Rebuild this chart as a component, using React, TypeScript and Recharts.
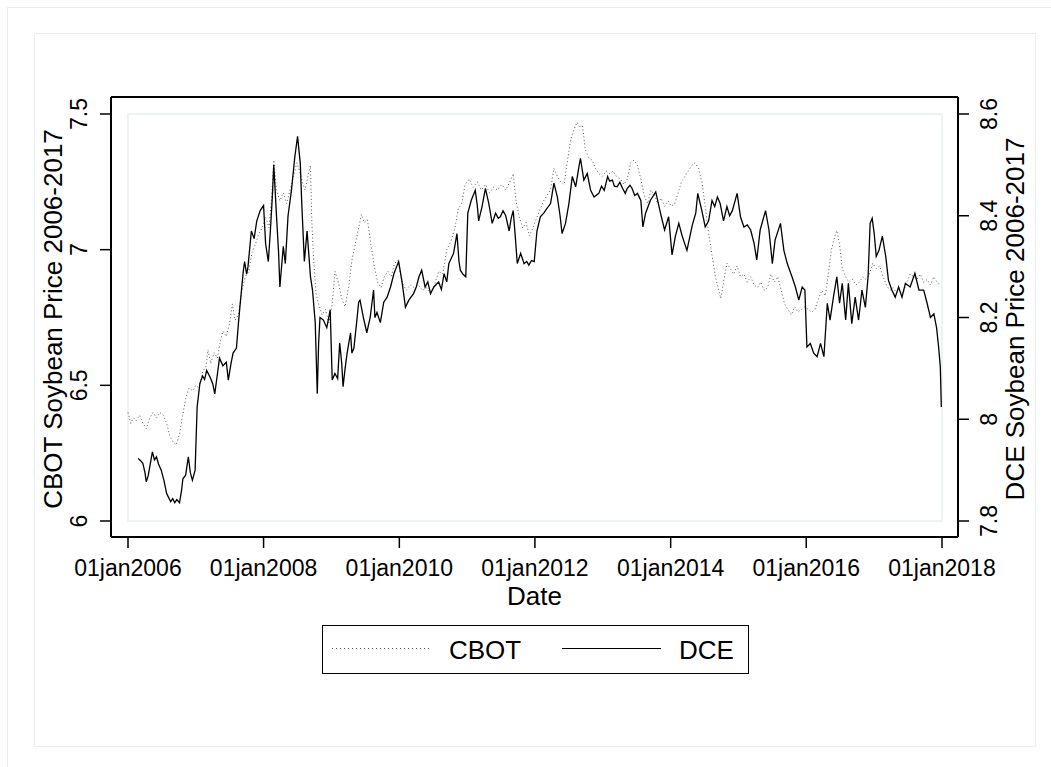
import React from "react";
import { LineChart, Line, XAxis, YAxis, ReferenceArea, Legend, CartesianGrid } from "recharts";

const FONT = '"Liberation Sans", Arial, Helvetica, sans-serif';

// tick values
const yearTicks = [2006, 2008, 2010, 2012, 2014, 2016, 2018];
const cbotTicks = [6, 6.5, 7, 7.5];
const dceTicks = [7.8, 8, 8.2, 8.4, 8.6];

// [decimal year, log price]
const cbotPoints: [number, number][] = [
  [2006.0, 6.4], [2006.04, 6.36], [2006.08, 6.38], [2006.12, 6.37], [2006.17, 6.39], [2006.22, 6.36],
  [2006.27, 6.34], [2006.32, 6.38], [2006.37, 6.4], [2006.42, 6.38], [2006.47, 6.4], [2006.52, 6.39],
  [2006.57, 6.36], [2006.62, 6.31], [2006.67, 6.29], [2006.71, 6.28], [2006.76, 6.32], [2006.8, 6.38],
  [2006.85, 6.45], [2006.9, 6.49], [2006.95, 6.48], [2007.0, 6.5], [2007.05, 6.49], [2007.1, 6.55],
  [2007.15, 6.57], [2007.18, 6.63], [2007.22, 6.58], [2007.27, 6.62], [2007.32, 6.6], [2007.36, 6.66],
  [2007.4, 6.7], [2007.45, 6.68], [2007.5, 6.73], [2007.54, 6.8], [2007.58, 6.74], [2007.63, 6.76],
  [2007.68, 6.85], [2007.73, 6.9], [2007.78, 6.92], [2007.83, 6.99], [2007.88, 7.02], [2007.93, 7.06],
  [2007.98, 7.08], [2008.03, 7.12], [2008.08, 7.08], [2008.12, 7.2], [2008.15, 7.33], [2008.19, 7.22],
  [2008.24, 7.18], [2008.29, 7.21], [2008.34, 7.17], [2008.39, 7.22], [2008.44, 7.27], [2008.49, 7.32],
  [2008.53, 7.29], [2008.57, 7.25], [2008.61, 7.22], [2008.66, 7.28], [2008.69, 7.31], [2008.71, 7.1],
  [2008.74, 6.95], [2008.77, 6.84], [2008.81, 6.8], [2008.86, 6.76], [2008.91, 6.78], [2008.96, 6.73],
  [2009.01, 6.8], [2009.05, 6.92], [2009.1, 6.88], [2009.15, 6.82], [2009.2, 6.79], [2009.25, 6.86],
  [2009.3, 6.96], [2009.35, 7.02], [2009.4, 7.08], [2009.44, 7.13], [2009.48, 7.1], [2009.53, 7.11],
  [2009.58, 7.02], [2009.63, 6.94], [2009.68, 6.88], [2009.73, 6.86], [2009.78, 6.9], [2009.83, 6.92],
  [2009.88, 6.9], [2009.93, 6.95], [2009.98, 6.96], [2010.04, 6.88], [2010.1, 6.85], [2010.16, 6.87],
  [2010.22, 6.86], [2010.28, 6.87], [2010.34, 6.85], [2010.4, 6.86], [2010.46, 6.84], [2010.52, 6.87],
  [2010.58, 6.92], [2010.64, 6.91], [2010.7, 7.0], [2010.76, 7.03], [2010.82, 7.08], [2010.87, 7.15],
  [2010.92, 7.17], [2010.97, 7.24], [2011.03, 7.26], [2011.09, 7.23], [2011.15, 7.25], [2011.21, 7.22],
  [2011.27, 7.24], [2011.33, 7.21], [2011.39, 7.23], [2011.45, 7.22], [2011.51, 7.24], [2011.57, 7.22],
  [2011.63, 7.25], [2011.68, 7.28], [2011.72, 7.18], [2011.77, 7.12], [2011.82, 7.08], [2011.87, 7.1],
  [2011.92, 7.05], [2011.97, 7.08], [2012.03, 7.12], [2012.08, 7.15], [2012.13, 7.18], [2012.18, 7.2],
  [2012.23, 7.22], [2012.28, 7.3], [2012.33, 7.27], [2012.38, 7.25], [2012.43, 7.24], [2012.48, 7.33],
  [2012.53, 7.41], [2012.57, 7.44], [2012.62, 7.47], [2012.66, 7.45], [2012.7, 7.46], [2012.74, 7.37],
  [2012.79, 7.34], [2012.84, 7.33], [2012.89, 7.3], [2012.94, 7.28], [2012.99, 7.27], [2013.05, 7.29],
  [2013.1, 7.28], [2013.15, 7.29], [2013.2, 7.27], [2013.26, 7.26], [2013.31, 7.24], [2013.36, 7.26],
  [2013.41, 7.32], [2013.46, 7.33], [2013.51, 7.31], [2013.56, 7.26], [2013.61, 7.2], [2013.66, 7.17],
  [2013.71, 7.22], [2013.76, 7.2], [2013.81, 7.17], [2013.86, 7.19], [2013.91, 7.16], [2013.96, 7.18],
  [2014.01, 7.16], [2014.06, 7.17], [2014.11, 7.21], [2014.16, 7.25], [2014.21, 7.27], [2014.26, 7.29],
  [2014.31, 7.31], [2014.36, 7.32], [2014.41, 7.3], [2014.46, 7.25], [2014.51, 7.16], [2014.56, 7.06],
  [2014.61, 6.98], [2014.66, 6.9], [2014.7, 6.86], [2014.74, 6.82], [2014.78, 6.88], [2014.83, 6.95],
  [2014.88, 6.93], [2014.93, 6.91], [2014.98, 6.94], [2015.03, 6.9], [2015.08, 6.91], [2015.13, 6.88],
  [2015.18, 6.9], [2015.23, 6.87], [2015.28, 6.86], [2015.33, 6.88], [2015.38, 6.85], [2015.43, 6.86],
  [2015.48, 6.91], [2015.53, 6.88], [2015.58, 6.9], [2015.63, 6.85], [2015.68, 6.8], [2015.73, 6.78],
  [2015.78, 6.76], [2015.83, 6.79], [2015.88, 6.77], [2015.93, 6.78], [2015.98, 6.79], [2016.03, 6.78],
  [2016.08, 6.77], [2016.13, 6.78], [2016.18, 6.82], [2016.23, 6.85], [2016.28, 6.83], [2016.33, 6.92],
  [2016.37, 7.0], [2016.41, 7.04], [2016.45, 7.07], [2016.49, 7.02], [2016.53, 6.93], [2016.58, 6.9],
  [2016.63, 6.88], [2016.68, 6.89], [2016.73, 6.87], [2016.78, 6.88], [2016.83, 6.9], [2016.88, 6.89],
  [2016.93, 6.91], [2016.98, 6.95], [2017.03, 6.93], [2017.08, 6.94], [2017.13, 6.9], [2017.18, 6.87],
  [2017.23, 6.85], [2017.28, 6.86], [2017.33, 6.84], [2017.38, 6.85], [2017.43, 6.84], [2017.48, 6.88],
  [2017.53, 6.91], [2017.58, 6.9], [2017.63, 6.89], [2017.68, 6.91], [2017.73, 6.88], [2017.78, 6.89],
  [2017.83, 6.87], [2017.88, 6.9], [2017.93, 6.88], [2017.98, 6.87],
];

const dcePoints: [number, number][] = [
  [2006.15, 7.923], [2006.19, 7.918], [2006.22, 7.913], [2006.25, 7.895], [2006.27, 7.877], [2006.3, 7.89],
  [2006.32, 7.906], [2006.36, 7.936], [2006.39, 7.92], [2006.42, 7.926], [2006.45, 7.912], [2006.49, 7.9],
  [2006.53, 7.88], [2006.57, 7.854], [2006.6, 7.846], [2006.63, 7.838], [2006.66, 7.844], [2006.69, 7.836],
  [2006.72, 7.842], [2006.76, 7.836], [2006.79, 7.86], [2006.81, 7.883], [2006.85, 7.89], [2006.89, 7.926],
  [2006.92, 7.895], [2006.95, 7.88], [2006.99, 7.9], [2007.02, 8.024], [2007.06, 8.07], [2007.1, 8.085],
  [2007.13, 8.078], [2007.16, 8.096], [2007.21, 8.083], [2007.25, 8.07], [2007.28, 8.05], [2007.32, 8.09],
  [2007.35, 8.12], [2007.4, 8.105], [2007.45, 8.112], [2007.48, 8.077], [2007.52, 8.11], [2007.55, 8.13],
  [2007.6, 8.14], [2007.63, 8.19], [2007.65, 8.22], [2007.7, 8.29], [2007.72, 8.31], [2007.75, 8.285],
  [2007.77, 8.3], [2007.82, 8.37], [2007.86, 8.355], [2007.9, 8.39], [2007.95, 8.41], [2008.0, 8.42],
  [2008.03, 8.345], [2008.07, 8.31], [2008.1, 8.37], [2008.13, 8.44], [2008.15, 8.5], [2008.19, 8.4],
  [2008.22, 8.33], [2008.24, 8.26], [2008.29, 8.34], [2008.32, 8.306], [2008.36, 8.4], [2008.41, 8.45],
  [2008.46, 8.516], [2008.5, 8.556], [2008.54, 8.503], [2008.56, 8.43], [2008.6, 8.31], [2008.64, 8.37],
  [2008.69, 8.28], [2008.72, 8.254], [2008.76, 8.19], [2008.79, 8.05], [2008.81, 8.15], [2008.83, 8.2],
  [2008.88, 8.195], [2008.93, 8.18], [2008.98, 8.215], [2009.01, 8.077], [2009.05, 8.09], [2009.09, 8.08],
  [2009.12, 8.15], [2009.15, 8.11], [2009.17, 8.064], [2009.2, 8.1], [2009.23, 8.13], [2009.28, 8.17],
  [2009.3, 8.13], [2009.33, 8.14], [2009.37, 8.19], [2009.4, 8.23], [2009.42, 8.234], [2009.47, 8.2],
  [2009.52, 8.17], [2009.57, 8.2], [2009.62, 8.254], [2009.64, 8.2], [2009.67, 8.21], [2009.72, 8.19],
  [2009.77, 8.23], [2009.82, 8.24], [2009.87, 8.26], [2009.92, 8.286], [2009.96, 8.3], [2009.99, 8.31],
  [2010.04, 8.27], [2010.09, 8.22], [2010.14, 8.234], [2010.21, 8.247], [2010.25, 8.26], [2010.29, 8.28],
  [2010.33, 8.293], [2010.38, 8.26], [2010.42, 8.27], [2010.46, 8.247], [2010.51, 8.26], [2010.58, 8.27],
  [2010.62, 8.255], [2010.66, 8.286], [2010.7, 8.27], [2010.73, 8.306], [2010.8, 8.326], [2010.85, 8.365],
  [2010.88, 8.31], [2010.9, 8.293], [2010.94, 8.285], [2010.98, 8.28], [2011.01, 8.405], [2011.06, 8.43],
  [2011.12, 8.45], [2011.15, 8.42], [2011.17, 8.39], [2011.22, 8.418], [2011.27, 8.454], [2011.32, 8.424],
  [2011.37, 8.385], [2011.42, 8.405], [2011.46, 8.395], [2011.49, 8.398], [2011.53, 8.41], [2011.57, 8.4],
  [2011.62, 8.37], [2011.65, 8.395], [2011.68, 8.41], [2011.71, 8.36], [2011.74, 8.306], [2011.79, 8.326],
  [2011.84, 8.306], [2011.88, 8.31], [2011.91, 8.303], [2011.95, 8.312], [2011.99, 8.31], [2012.03, 8.37],
  [2012.08, 8.398], [2012.13, 8.405], [2012.18, 8.415], [2012.23, 8.424], [2012.28, 8.464], [2012.33, 8.437],
  [2012.37, 8.4], [2012.4, 8.365], [2012.45, 8.385], [2012.5, 8.424], [2012.55, 8.477], [2012.6, 8.457],
  [2012.64, 8.49], [2012.67, 8.513], [2012.72, 8.47], [2012.77, 8.483], [2012.82, 8.45], [2012.87, 8.437],
  [2012.94, 8.444], [2012.98, 8.458], [2013.02, 8.45], [2013.07, 8.477], [2013.1, 8.468], [2013.14, 8.47],
  [2013.17, 8.458], [2013.21, 8.457], [2013.25, 8.466], [2013.29, 8.454], [2013.33, 8.444], [2013.36, 8.454],
  [2013.4, 8.46], [2013.43, 8.454], [2013.47, 8.44], [2013.51, 8.444], [2013.56, 8.43], [2013.59, 8.378],
  [2013.63, 8.405], [2013.7, 8.43], [2013.78, 8.447], [2013.85, 8.405], [2013.91, 8.372], [2013.97, 8.398],
  [2014.02, 8.323], [2014.07, 8.36], [2014.12, 8.385], [2014.17, 8.36], [2014.24, 8.332], [2014.32, 8.382],
  [2014.37, 8.405], [2014.4, 8.444], [2014.46, 8.41], [2014.51, 8.378], [2014.56, 8.39], [2014.61, 8.43],
  [2014.65, 8.418], [2014.69, 8.437], [2014.73, 8.424], [2014.78, 8.39], [2014.83, 8.418], [2014.87, 8.4],
  [2014.91, 8.41], [2014.98, 8.444], [2015.03, 8.398], [2015.08, 8.378], [2015.13, 8.382], [2015.18, 8.372],
  [2015.23, 8.346], [2015.27, 8.313], [2015.32, 8.372], [2015.4, 8.41], [2015.45, 8.372], [2015.5, 8.306],
  [2015.54, 8.352], [2015.62, 8.385], [2015.67, 8.332], [2015.72, 8.306], [2015.79, 8.28], [2015.84, 8.26],
  [2015.89, 8.234], [2015.94, 8.26], [2015.98, 8.254], [2016.01, 8.142], [2016.06, 8.149], [2016.11, 8.13],
  [2016.16, 8.123], [2016.21, 8.149], [2016.26, 8.123], [2016.31, 8.228], [2016.35, 8.195], [2016.4, 8.24],
  [2016.45, 8.28], [2016.49, 8.228], [2016.53, 8.267], [2016.58, 8.195], [2016.62, 8.267], [2016.67, 8.188],
  [2016.72, 8.24], [2016.77, 8.195], [2016.82, 8.254], [2016.87, 8.22], [2016.91, 8.28], [2016.94, 8.385],
  [2016.97, 8.395], [2017.0, 8.365], [2017.03, 8.32], [2017.07, 8.332], [2017.12, 8.36], [2017.17, 8.32],
  [2017.21, 8.273], [2017.26, 8.254], [2017.31, 8.24], [2017.36, 8.26], [2017.41, 8.24], [2017.46, 8.267],
  [2017.53, 8.26], [2017.6, 8.287], [2017.66, 8.254], [2017.73, 8.254], [2017.78, 8.228], [2017.83, 8.2],
  [2017.88, 8.207], [2017.92, 8.18], [2017.95, 8.142], [2017.975, 8.103], [2017.99, 8.024],
];

// decimal year -> epoch ms
const toTime = (yr: number) => {
  const y = Math.floor(yr);
  const start = Date.UTC(y, 0, 1);
  const end = Date.UTC(y + 1, 0, 1);
  return start + (yr - y) * (end - start);
};

const cbotData = cbotPoints.map(([d, v]) => ({ t: toTime(d), v }));
const dceData = dcePoints.map(([d, v]) => ({ t: toTime(d), v }));
const xTicks = yearTicks.map((y) => toTime(y));
const xDomain = [xTicks[0], xTicks[xTicks.length - 1]];

const fmtDate = (t: number) => "01jan" + new Date(t).getUTCFullYear();

const BottomTick = ({ x, y, payload }: any) => (
  <text x={x} y={y} textAnchor="middle" fontSize={23} fontFamily={FONT} fill="#000">
    {fmtDate(payload.value)}
  </text>
);

const SideTick = ({ x, y, payload }: any) => (
  <text x={x} y={y} transform={`rotate(-90, ${x}, ${y})`} textAnchor="middle" fontSize={23} fontFamily={FONT} fill="#000">
    {payload.value}
  </text>
);

const sideTitle = (text: string, dx: number) => (props: any) => {
  const vb = props.viewBox || {};
  const x = vb.x + dx;
  const y = vb.y + vb.height / 2 + 2;
  return (
    <text x={x} y={y} transform={`rotate(-90, ${x}, ${y})`} textAnchor="middle" fontSize={26} fontFamily={FONT} fill="#000">
      {text}
    </text>
  );
};

const dateTitle = (props: any) => {
  const vb = props.viewBox || {};
  return (
    <text x={vb.x + vb.width / 2} y={vb.y + 68} textAnchor="middle" fontSize={26} fontFamily={FONT} fill="#000">
      Date
    </text>
  );
};

const renderLegend = (props: any) => {
  const items = props.payload || [];
  return (
    <svg width={427} height={49} style={{ display: "block" }}>
      <rect x={0.5} y={0.5} width={426} height={48} fill="#fff" stroke="#000" strokeWidth={1} />
      {items.map((it: any, i: number) => {
        const x0 = 10 + i * 230;
        const dash = it.payload && it.payload.strokeDasharray;
        return (
          <g key={it.value}>
            <line
              x1={x0}
              x2={x0 + 99}
              y1={23.5}
              y2={23.5}
              stroke={it.color}
              strokeWidth={1}
              strokeDasharray={dash ? "1 3" : undefined}
            />
            <text x={x0 + 117} y={33.5} fontSize={26} fontFamily={FONT} fill="#000">
              {it.value}
            </text>
          </g>
        );
      })}
    </svg>
  );
};

const frame = { stroke: "#000", strokeWidth: 2 };
const tickLine = { stroke: "#000", strokeWidth: 1.5 };

// frame lines sit on the edges of the plot area
const frameRows = ({ offset }: any) => [offset.top, offset.top + offset.height];
const frameCols = ({ offset }: any) => [offset.left, offset.left + offset.width];

export default function App() {
  return (
    <div style={{ position: "absolute", left: 0, top: 0, width: 1051, height: 767, background: "#fff", overflow: "hidden" }}>
      <div style={{ position: "absolute", left: 7, top: 7, width: 1060, height: 780, border: "1px solid #e8eef2" }} />
      <div style={{ position: "absolute", left: 34, top: 33, width: 1000, height: 712, border: "1.5px solid #e8eef2" }} />
      <div style={{ position: "absolute", left: 0, top: 0 }}>
        <LineChart width={1051} height={767} margin={{ top: 97, right: 33, bottom: 180, left: 51 }}>
          <CartesianGrid
            yAxisId="left"
            stroke="#000"
            strokeWidth={2}
            strokeDasharray=""
            horizontalCoordinatesGenerator={frameRows}
            verticalCoordinatesGenerator={frameCols}
          />
          <XAxis
            type="number"
            dataKey="t"
            domain={xDomain}
            ticks={xTicks}
            padding={{ left: 17, right: 16 }}
            height={50}
            tickSize={11}
            tickMargin={28}
            tick={<BottomTick />}
            tickLine={tickLine}
            axisLine={frame}
            label={{ content: dateTitle }}
          />
          <YAxis
            yAxisId="left"
            type="number"
            domain={[6, 7.5]}
            ticks={cbotTicks}
            padding={{ top: 17, bottom: 16 }}
            width={60}
            tickSize={11}
            tickMargin={13}
            tick={<SideTick />}
            tickLine={tickLine}
            axisLine={frame}
            label={{ content: sideTitle("CBOT Soybean Price 2006-2017", 11) }}
          />
          <YAxis
            yAxisId="right"
            orientation="right"
            type="number"
            domain={[7.8, 8.6]}
            ticks={dceTicks}
            padding={{ top: 17, bottom: 16 }}
            width={60}
            tickSize={11}
            tickMargin={28}
            tick={<SideTick />}
            tickLine={tickLine}
            axisLine={frame}
            label={{ content: sideTitle("DCE Soybean Price 2006-2017", 65.5) }}
          />
          <ReferenceArea
            yAxisId="left"
            x1={xDomain[0]}
            x2={xDomain[1]}
            y1={6}
            y2={7.5}
            fill="none"
            fillOpacity={0}
            stroke="#e8eef2"
            strokeWidth={1.5}
          />
          <Line
            yAxisId="left"
            data={cbotData}
            dataKey="v"
            name="CBOT"
            type="linear"
            stroke="#555"
            strokeWidth={1}
            strokeDasharray="1 2.5"
            dot={false}
            activeDot={false}
            isAnimationActive={false}
          />
          <Line
            yAxisId="right"
            data={dceData}
            dataKey="v"
            name="DCE"
            type="linear"
            stroke="#000"
            strokeWidth={1.3}
            dot={false}
            activeDot={false}
            isAnimationActive={false}
          />
          <Legend
            layout="horizontal"
            verticalAlign="middle"
            align="center"
            content={renderLegend}
            wrapperStyle={{ left: 322, top: 625, width: 427, height: 49 }}
          />
        </LineChart>
      </div>
    </div>
  );
}
